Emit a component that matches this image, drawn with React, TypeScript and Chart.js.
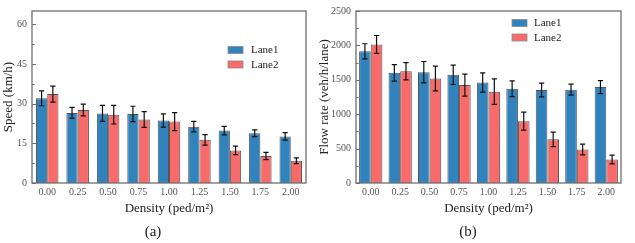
import { useEffect, useRef } from "react";
import { Chart, registerables } from "chart.js";

Chart.register(...registerables);

const categories = ["0.00", "0.25", "0.50", "0.75", "1.00", "1.25", "1.50", "1.75", "2.00"];
const seriesNames = ["Lane1", "Lane2"];

const speedLane1 = [32.0, 26.5, 26.3, 26.1, 23.6, 21.3, 19.8, 18.8, 17.6];
const speedLane1Err = [2.8, 2.1, 3.0, 2.9, 2.5, 2.0, 1.6, 1.3, 1.4];
const speedLane2 = [33.6, 27.6, 25.8, 24.0, 23.2, 16.3, 12.3, 10.2, 8.4];
const speedLane2Err = [3.0, 2.2, 3.5, 3.0, 3.4, 2.0, 1.6, 1.4, 1.1];

const flowLane1 = [1914, 1601, 1611, 1572, 1462, 1370, 1351, 1356, 1394];
const flowLane1Err = [110, 120, 155, 140, 140, 115, 100, 80, 95];
const flowLane2 = [2014, 1625, 1519, 1423, 1327, 899, 635, 486, 341];
const flowLane2Err = [130, 125, 180, 160, 185, 130, 105, 78, 63];

const BLUE = "#3183BE";
const RED = "#F96B6B";
const EDGE = "#555555";
const FONT = "'Liberation Serif', 'Times New Roman', serif";

const errorBarPlugin = {
  id: "errorBars",
  afterDatasetsDraw(chart: any, _args: any, opts: any) {
    const ctx = chart.ctx;
    const yScale = chart.scales.y;
    chart.data.datasets.forEach((ds: any, di: number) => {
      const meta = chart.getDatasetMeta(di);
      const errs = opts.errors[di];
      meta.data.forEach((bar: any, i: number) => {
        const v = ds.data[i];
        const e = errs[i];
        const x = bar.x;
        const yt = yScale.getPixelForValue(v + e);
        const yb = yScale.getPixelForValue(v - e);
        ctx.save();
        ctx.strokeStyle = "#111";
        ctx.lineWidth = 1.2;
        ctx.beginPath();
        ctx.moveTo(x, yt);
        ctx.lineTo(x, yb);
        ctx.moveTo(x - 2.6, yt);
        ctx.lineTo(x + 2.6, yt);
        ctx.moveTo(x - 2.6, yb);
        ctx.lineTo(x + 2.6, yb);
        ctx.stroke();
        ctx.restore();
      });
    });
  },
};

const framePlugin = {
  id: "frameTicks",
  afterDraw(chart: any, _args: any, opts: any) {
    const ctx = chart.ctx;
    const a = chart.chartArea;
    const y = chart.scales.y;
    ctx.save();
    ctx.strokeStyle = "#6f6f6f";
    ctx.lineWidth = 1.3;
    ctx.strokeRect(a.left, a.top, a.right - a.left, a.bottom - a.top);
    ctx.lineWidth = 1;
    ctx.beginPath();
    for (let v = 0; v <= opts.max + 1e-9; v += opts.step / 2) {
      const py = Math.round(y.getPixelForValue(v)) + 0.5;
      const major = Math.abs(v / opts.step - Math.round(v / opts.step)) < 1e-6;
      const len = major ? 4 : 2.5;
      ctx.moveTo(a.left, py);
      ctx.lineTo(a.left + len, py);
    }
    ctx.stroke();
    // legend
    const lg = opts.legend;
    ctx.font = `11px ${FONT}`;
    ctx.textBaseline = "middle";
    ctx.textAlign = "left";
    lg.items.forEach((it: any, i: number) => {
      const cy = lg.y + i * lg.gap;
      ctx.fillStyle = it.color;
      ctx.fillRect(lg.x, cy - 3.5, 15, 7);
      ctx.strokeStyle = "#8a8a8a";
      ctx.lineWidth = 0.8;
      ctx.strokeRect(lg.x, cy - 3.5, 15, 7);
      ctx.fillStyle = "#222";
      ctx.fillText(it.label, lg.textX, cy + 0.5);
    });
    ctx.restore();
  },
};

type PanelProps = {
  width: number;
  yTitle: string;
  panelLabel: string;
  lane1: number[];
  lane2: number[];
  err1: number[];
  err2: number[];
  yMax: number;
  yStep: number;
  yAxisWidth: number;
  padTop: number;
  padRight: number;
  titlePad: number;
  catPct: number;
  legend: { x: number; y: number; gap: number; textX: number };
};

function Panel(p: PanelProps) {
  const ref = useRef<HTMLCanvasElement | null>(null);
  useEffect(() => {
    if (!ref.current) return;
    const chart = new Chart(ref.current, {
      type: "bar",
      data: {
        labels: categories,
        datasets: [
          {
            label: seriesNames[0],
            data: p.lane1,
            backgroundColor: BLUE,
            borderColor: EDGE,
            borderWidth: 1,
            barPercentage: 1,
            categoryPercentage: p.catPct,
          },
          {
            label: seriesNames[1],
            data: p.lane2,
            backgroundColor: RED,
            borderColor: EDGE,
            borderWidth: 1,
            barPercentage: 1,
            categoryPercentage: p.catPct,
          },
        ],
      },
      options: {
        responsive: false,
        animation: false,
        devicePixelRatio: 1,
        layout: { padding: { left: 0, top: p.padTop, right: p.padRight, bottom: 0 } },
        plugins: {
          legend: { display: false },
          tooltip: { enabled: false },
          title: {
            display: true,
            position: "bottom",
            text: p.panelLabel,
            color: "#222",
            font: { family: FONT, size: 15, weight: "normal" },
            padding: { top: 0, bottom: 2 },
          },
          errorBars: { errors: [p.err1, p.err2] },
          frameTicks: {
            max: p.yMax,
            step: p.yStep,
            legend: {
              ...p.legend,
              items: [
                { label: seriesNames[0], color: BLUE },
                { label: seriesNames[1], color: RED },
              ],
            },
          },
        } as any,
        scales: {
          x: {
            type: "category",
            grid: { display: false, drawTicks: false },
            border: { display: false },
            ticks: {
              color: "#555",
              padding: 3,
              maxRotation: 0,
              font: { family: FONT, size: 10 },
            },
            title: {
              display: true,
              text: "Density (ped/m²)",
              color: "#222",
              font: { family: FONT, size: 13 },
              padding: { top: 0, bottom: 7 },
            },
            afterFit: (s: any) => {
              s.height = 40;
            },
          },
          y: {
            type: "linear",
            min: 0,
            max: p.yMax,
            grid: { display: false, drawTicks: false },
            border: { display: false },
            ticks: {
              stepSize: p.yStep,
              includeBounds: false,
              color: "#555",
              padding: 5,
              font: { family: FONT, size: 10 },
              callback: (v: any) => String(v),
            },
            title: {
              display: true,
              text: p.yTitle,
              color: "#222",
              font: { family: FONT, size: 13 },
              padding: { top: p.titlePad, bottom: 0 },
            },
            afterFit: (s: any) => {
              s.width = p.yAxisWidth;
            },
          },
        },
      },
      plugins: [errorBarPlugin, framePlugin],
    } as any);
    return () => chart.destroy();
  }, []);
  return (
    <canvas
      ref={ref}
      width={p.width}
      height={243}
      style={{ width: p.width, height: 243, display: "block" }}
    />
  );
}

export default function App() {
  return (
    <div
      style={{
        position: "fixed",
        left: 0,
        top: 0,
        width: 635,
        height: 243,
        background: "#fff",
        display: "flex",
      }}
    >
      <Panel
        width={315}
        yTitle="Speed (km/h)"
        panelLabel="(a)"
        lane1={speedLane1}
        lane2={speedLane2}
        err1={speedLane1Err}
        err2={speedLane2Err}
        yMax={65}
        yStep={15}
        yAxisWidth={32}
        padTop={10}
        padRight={9}
        titlePad={1.2}
        catPct={0.74}
        legend={{ x: 228, y: 50, gap: 14.5, textX: 251 }}
      />
      <Panel
        width={320}
        yTitle="Flow rate (veh/h/lane)"
        panelLabel="(b)"
        lane1={flowLane1}
        lane2={flowLane2}
        err1={flowLane1Err}
        err2={flowLane2Err}
        yMax={2500}
        yStep={500}
        yAxisWidth={41}
        padTop={9.5}
        padRight={14}
        titlePad={2.2}
        catPct={0.79}
        legend={{ x: 197, y: 23, gap: 14.5, textX: 219 }}
      />
    </div>
  );
}
